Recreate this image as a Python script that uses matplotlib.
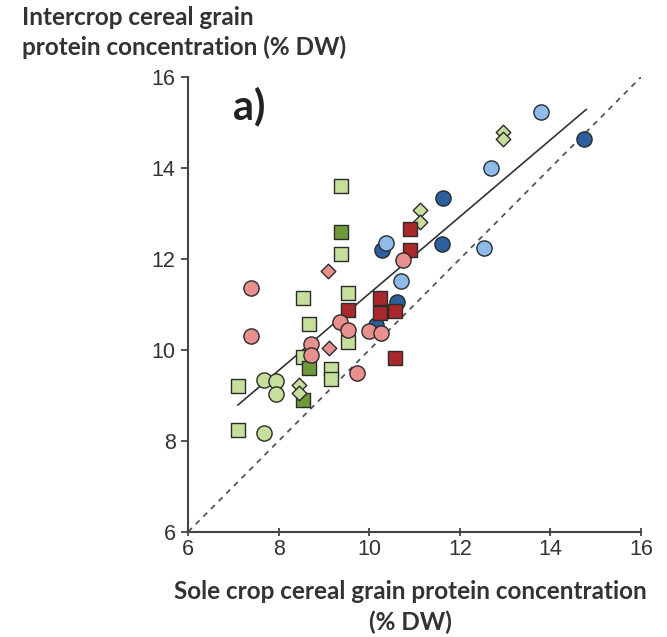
import matplotlib.pyplot as plt
import numpy as np

# data (sole crop x, intercrop y), % DW
lb_circ_x = [13.79, 12.69, 10.38, 10.71, 12.54]
lb_circ_y = [15.24, 13.99, 12.35, 11.51, 12.24]

db_circ_x = [14.75, 11.63, 11.60, 10.28, 10.61, 10.14]
db_circ_y = [14.64, 13.34, 12.33, 12.20, 11.05, 10.55]

pk_circ_x = [7.40, 7.40, 10.74, 9.35, 9.53, 9.99, 10.26, 8.71, 8.72, 9.74]
pk_circ_y = [11.36, 10.30, 11.98, 10.61, 10.44, 10.42, 10.37, 10.13, 9.88, 9.49]

pk_dia_x = [9.10, 9.11]
pk_dia_y = [11.73, 10.04]

dr_sq_x = [10.89, 10.89, 10.23, 10.23, 10.56, 9.53, 10.56]
dr_sq_y = [12.66, 12.19, 11.14, 10.81, 10.85, 10.88, 9.82]

lg_sq_x = [9.37, 9.37, 9.53, 8.54, 8.67, 9.53, 8.54, 9.15, 9.15, 7.10, 7.10]
lg_sq_y = [13.60, 12.11, 11.26, 11.15, 10.57, 10.18, 9.85, 9.58, 9.36, 9.21, 8.24]

dg_sq_x = [9.37, 8.67, 8.54]
dg_sq_y = [12.59, 9.60, 8.90]

lg_circ_x = [7.68, 7.95, 7.93, 7.68]
lg_circ_y = [9.34, 9.32, 9.03, 8.17]

lg_dia_x = [12.95, 12.95, 11.11, 11.11, 8.44, 8.44]
lg_dia_y = [14.79, 14.63, 13.07, 12.81, 9.23, 9.05]

# regression line as drawn
fit_x = [7.10, 14.79]
fit_slope = 0.845
fit_intercept = 2.79

ticks = [6, 8, 10, 12, 14, 16]

fig = plt.figure(figsize=(6.67, 6.37), dpi=100)
ax = fig.add_axes([0.282, 0.165, 0.679, 0.714])

edge = '#2b2b2b'
ax.plot([6, 16], [6, 16], ls=(0, (3, 3)), color='#555555', lw=1.3, zorder=1)
fx = np.array(fit_x)
ax.plot(fx, fit_slope * fx + fit_intercept, color='#333333', lw=1.2, zorder=1)

ax.scatter(lg_sq_x, lg_sq_y, marker='s', s=95, c='#c6df9c', edgecolors=edge, linewidths=1, zorder=2)
ax.scatter(dg_sq_x, dg_sq_y, marker='s', s=95, c='#6f9a3a', edgecolors=edge, linewidths=1, zorder=2)
ax.scatter(lg_circ_x, lg_circ_y, marker='o', s=120, c='#c6df9c', edgecolors=edge, linewidths=1, zorder=2)
ax.scatter(lg_dia_x, lg_dia_y, marker='D', s=55, c='#c6df9c', edgecolors=edge, linewidths=1, zorder=2)
ax.scatter(db_circ_x, db_circ_y, marker='o', s=120, c='#2d5f9c', edgecolors=edge, linewidths=1, zorder=2)
ax.scatter(dr_sq_x, dr_sq_y, marker='s', s=95, c='#a8282c', edgecolors=edge, linewidths=1, zorder=3)
ax.scatter(pk_circ_x, pk_circ_y, marker='o', s=120, c='#e8908e', edgecolors=edge, linewidths=1, zorder=3)
ax.scatter(pk_dia_x, pk_dia_y, marker='D', s=55, c='#e8908e', edgecolors=edge, linewidths=1, zorder=3)
ax.scatter(lb_circ_x, lb_circ_y, marker='o', s=120, c='#8fbbe8', edgecolors=edge, linewidths=1, zorder=3)

ax.set_xlim(6, 16)
ax.set_ylim(6, 16)
ax.set_xticks(ticks)
ax.set_yticks(ticks)
ax.spines['top'].set_visible(False)
ax.spines['right'].set_visible(False)
for sp in ['left', 'bottom']:
    ax.spines[sp].set_color('#444444')
    ax.spines[sp].set_linewidth(1.5)
ax.tick_params(axis='y', direction='out', length=5, width=1.3, color='#444444',
               labelsize=15.5, labelcolor='#333333', pad=4)
ax.tick_params(axis='x', direction='inout', length=6, width=1.3, color='#444444',
               labelsize=15.5, labelcolor='#333333', pad=2)
for lab in ax.get_xticklabels() + ax.get_yticklabels():
    lab.set_family('Liberation Sans')

ax.text(0.1, 0.935, 'a)', transform=ax.transAxes, fontsize=30, fontweight='bold',
        family='Lato', color='#222222', va='center', ha='left')

fig.text(0.033, 0.99, 'Intercrop cereal grain\nprotein concentration (% DW)',
         ha='left', va='top', fontsize=17.5, fontweight='bold', family='Lato',
         color='#333333', linespacing=1.3)
fig.text(0.616, 0.09, 'Sole crop cereal grain protein concentration\n(% DW)',
         ha='center', va='top', fontsize=17.5, fontweight='bold', family='Lato',
         color='#333333', linespacing=1.4)

fig.savefig('out.png', dpi=100)
